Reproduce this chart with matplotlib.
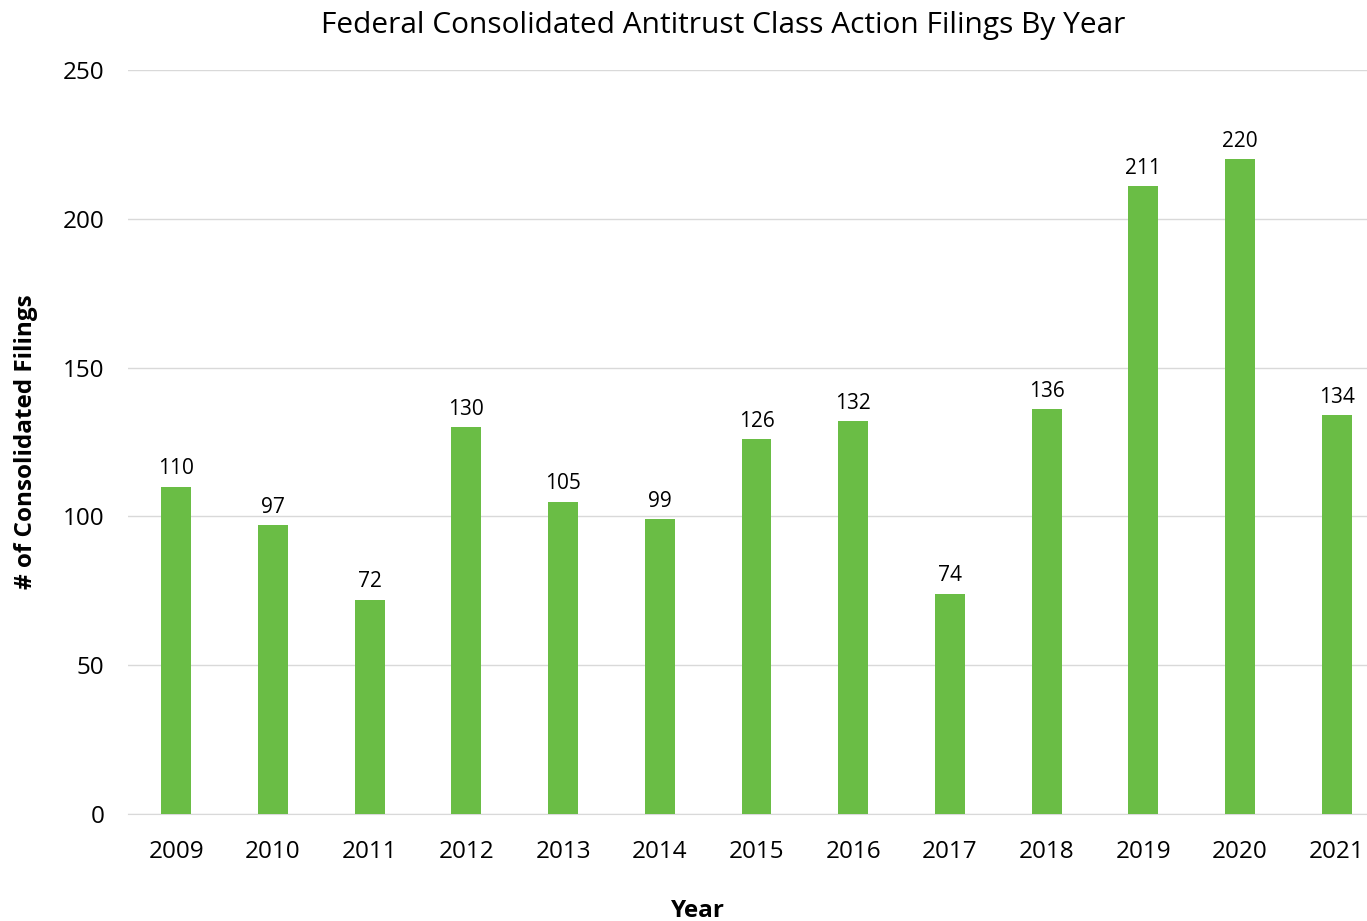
import matplotlib
matplotlib.use("Agg")
import matplotlib.pyplot as plt

years = ["2009", "2010", "2011", "2012", "2013", "2014", "2015",
         "2016", "2017", "2018", "2019", "2020", "2021"]
filings = [110, 97, 72, 130, 105, 99, 126, 132, 74, 136, 211, 220, 134]

plt.rcParams["font.family"] = ["Open Sans", "DejaVu Sans"]

fig = plt.figure(figsize=(13.67, 9.21), dpi=100)
# plot area runs slightly past the right edge, as in the original
ax = fig.add_axes([128 / 1367, 107 / 921, 1257 / 1367, 744 / 921])

x = range(len(years))
bars = ax.bar(x, filings, width=0.31, color="#6ABD45", zorder=3)

for b, v in zip(bars, filings):
    ax.text(b.get_x() + b.get_width() / 2, v + 2.5, str(v),
            ha="center", va="bottom", fontsize=15, color="#000000")

ax.set_xlim(-0.5, len(years) - 0.5)
ax.set_ylim(0, 250)
ax.set_yticks([0, 50, 100, 150, 200, 250])
ax.set_xticks(list(x))
ax.set_xticklabels(years)
ax.tick_params(axis="both", length=0, labelsize=17.5, colors="#000000")
ax.tick_params(axis="x", pad=19)
ax.tick_params(axis="y", pad=17)

ax.grid(axis="y", color="#D9D9D9", linewidth=1, zorder=0)
for s in ["top", "right", "left"]:
    ax.spines[s].set_visible(False)
ax.spines["bottom"].set_color("#D9D9D9")

ax.set_ylabel("# of Consolidated Filings", fontsize=17.5, fontweight="bold", labelpad=18)
fig.text(698 / 1367, 1 - 911 / 921, "Year", ha="center", va="center",
         fontsize=17.5, fontweight="bold")
fig.text(723 / 1367, 1 - 26 / 921, "Federal Consolidated Antitrust Class Action Filings By Year",
         ha="center", va="center", fontsize=21.5)

fig.savefig("out.png", dpi=100)
